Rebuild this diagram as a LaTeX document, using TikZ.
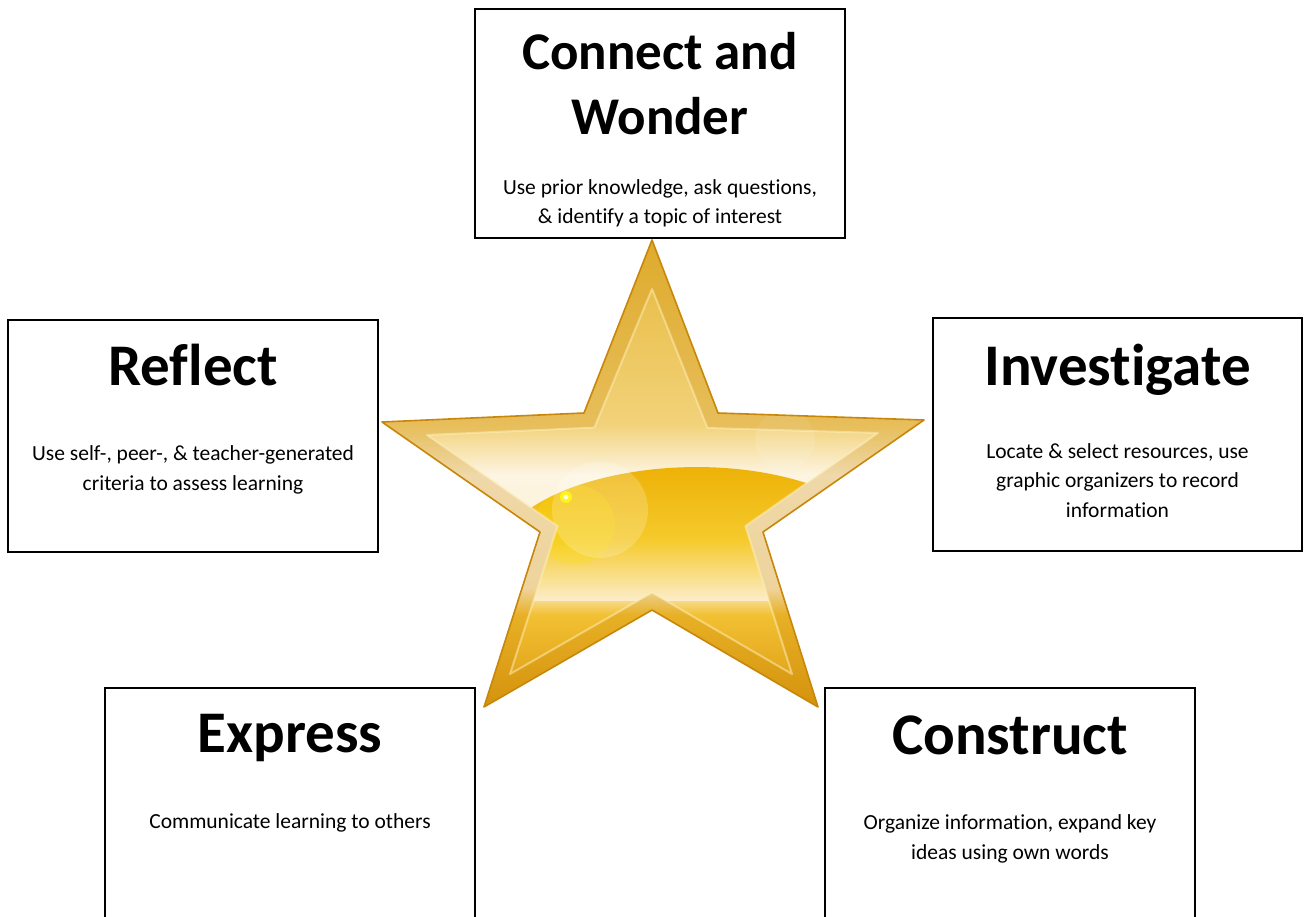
\documentclass[tikz,border=0pt]{standalone}
\usepackage{fontspec}
\setmainfont{Carlito}[Ligatures=NoCommon]
\definecolor{starline}{HTML}{C8860A}
\definecolor{gA}{HTML}{E6B83A}
\definecolor{gB}{HTML}{F2D27A}
\definecolor{gC}{HTML}{FDF5E2}
\definecolor{gD}{HTML}{FCEFD0}
\definecolor{gE}{HTML}{F2C033}
\definecolor{gF}{HTML}{D99610}
\definecolor{domeA}{HTML}{ECAE02}
\definecolor{domeB}{HTML}{F5CA2C}
\definecolor{domeC}{HTML}{FCECC8}
\definecolor{bevel}{HTML}{C88400}
\definecolor{hilite}{HTML}{FFF3C0}
\tikzset{
  outerstar/.style={insert path={(652,240) -- (718,413) -- (924,420) -- (763,532) -- (818,707) -- (652,610) -- (484,707) -- (540,532) -- (382,422) -- (584,413) -- cycle}},
  innerstar/.style={insert path={(652,289) -- (707.5,428) -- (878,433) -- (745.4,526) -- (792,674) -- (652,592.6) -- (510,674) -- (557.6,526) -- (427,435) -- (594.4,427.6) -- cycle}},
  box/.style={draw=black, line width=2pt, fill=white, rectangle, inner sep=0pt},
  title/.style={font=\bfseries\fontsize{59}{60}\selectfont, anchor=base, align=center, inner sep=0pt},
  body/.style={font=\fontsize{21.5}{29.3}\selectfont, anchor=base, align=center, inner sep=0pt}
}
\begin{document}
\begin{tikzpicture}[x=1pt,y=-1pt]
\useasboundingbox (0,0) rectangle (1304,917);
\fill[white] (0,0) rectangle (1304,917);
% ---------- star ----------
\begin{scope}
  \clip[outerstar];
  \shade[top color=gA, bottom color=gB] (370,235) rectangle (930,425);
  \shade[top color=gB, bottom color=gC] (370,425) rectangle (930,475);
  \shade[top color=gC, bottom color=gD] (370,475) rectangle (930,588);
  \shade[top color=gD, bottom color=gE] (370,588) rectangle (930,615);
  \shade[top color=gE, bottom color=gF] (370,615) rectangle (930,712);
  % dome
  \begin{scope}
    \clip[innerstar];
    \clip (528,510) .. controls (590,466) and (720,452) .. (815,486) -- (815,604) -- (528,604) -- cycle;
    \shade[top color=domeA, bottom color=domeB] (520,455) rectangle (820,540);
    \shade[top color=domeB, bottom color=domeC] (520,540) rectangle (820,600);
    \fill[yellow!85!orange, opacity=0.25] (575,525) circle[radius=40];
  \end{scope}
  \fill[white, opacity=0.2] (600,510) circle[radius=48];
  \fill[white, opacity=0.12] (785,440) circle[radius=30];
  \fill[yellow!90!white] (566,497) circle[radius=6];
  \fill[white, opacity=0.8] (566,497) circle[radius=2.5];
  % bevel band
  \fill[bevel, opacity=0.25, even odd rule] [outerstar] [innerstar];
  \draw[hilite, opacity=0.5, line width=2pt, line join=round] [innerstar];
\end{scope}
\draw[starline, line width=1.6pt, line join=round] [outerstar];
% ---------- boxes ----------
\node[box, minimum width=370, minimum height=229] (cwbox) at (660,123.5) {};
\node[box, minimum width=370, minimum height=232] (rfbox) at (193,436) {};
\node[box, minimum width=369, minimum height=233] (ivbox) at (1117.5,434.5) {};
\node[box, minimum width=370, minimum height=247] (exbox) at (290,811.5) {};
\node[box, minimum width=370, minimum height=247] (csbox) at (1010,811.5) {};
% ---------- texts ----------
\node[title, font=\bfseries\fontsize{53}{65}\selectfont] (cwt) at (660,135) {Connect and\\Wonder};
\node[body] (cwb) at (660,224) {Use prior knowledge, ask questions,\\\& identify a topic of interest};
\node[title] (rft) at (193,385) {Reflect};
\node[body] (rfb) at (193,490) {Use self-, peer-, \& teacher-generated\\criteria to assess learning};
\node[title] (ivt) at (1117.5,385) {Investigate};
\node[body] (ivb) at (1117.5,517) {Locate \& select resources, use\\graphic organizers to record\\information};
\node[title] (ext) at (290,752) {Express};
\node[body] (exb) at (290,828) {Communicate learning to others};
\node[title] (cst) at (1010,754) {Construct};
\node[body] (csb) at (1010,859) {Organize information, expand key\\ideas using own words};
\end{tikzpicture}
\end{document}
